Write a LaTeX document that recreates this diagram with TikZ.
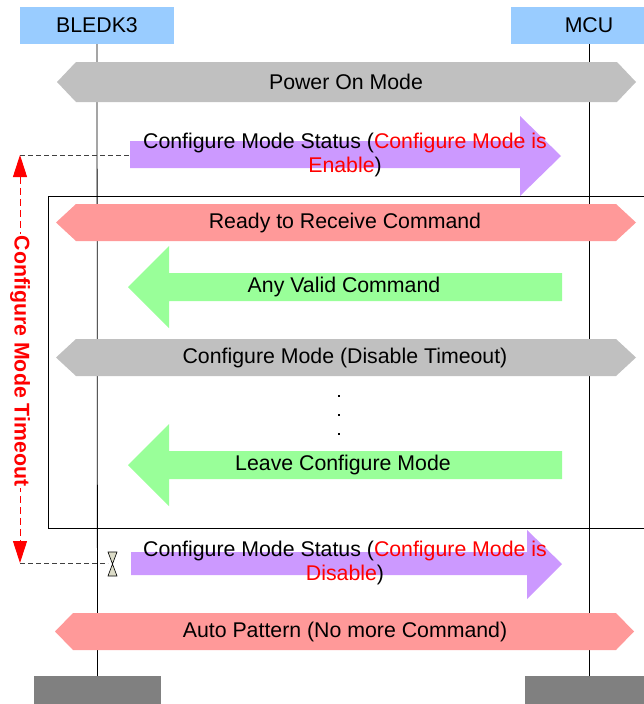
\documentclass[tikz,border=0pt]{standalone}
\usepackage{fontspec}
\setmainfont{Liberation Sans}
\usetikzlibrary{arrows.meta}
\definecolor{hdrblue}{HTML}{99CCFF}
\definecolor{pinkc}{HTML}{FF9999}
\definecolor{grayc}{HTML}{C0C0C0}
\definecolor{purplec}{HTML}{CC99FF}
\definecolor{greenc}{HTML}{99FF99}
\definecolor{darkbox}{HTML}{808080}
\definecolor{hourg}{HTML}{DCDCC8}
\definecolor{dashgray}{HTML}{404040}
\begin{document}
\begin{tikzpicture}[x=1pt,y=-1pt,
  every node/.style={font=\fontsize{21.3}{24}\selectfont, inner sep=0pt},
  hdr/.style={fill=hdrblue, minimum height=37},
  botbox/.style={fill=darkbox, minimum height=30},
  life/.style={draw=black, line width=0.8pt},
  frame/.style={draw=black, line width=0.8pt},
  gdash/.style={draw=dashgray, line width=1pt, dash pattern=on 5pt off 3pt},
  redarrow/.style={draw=red, line width=1pt, dash pattern=on 7pt off 4pt,
    {Triangle[length=22pt,width=14pt]}-{Triangle[length=22pt,width=14pt]}},
  lbl/.style={align=center, text=black},
  hl/.style={text=red}]
\clip (0,0) rectangle (644,704);
\useasboundingbox (0,0) rectangle (644,704);

% headers and bottom boxes
\node[hdr, minimum width=154] (bled) at (97,25.5) {BLEDK3};
\node[hdr, minimum width=156] (mcu) at (589,25.5) {MCU};
\node[botbox, minimum width=127] (bledend) at (97.5,691) {};
\node[botbox, minimum width=128] (mcuend) at (589,691) {};

% lifelines
\draw[life] (bled.south) -- (bledend.north);
\draw[life] (mcu.south) -- (mcuend.north);

% frame
\draw[frame] (48,196) rectangle (652,528);

% Power On Mode
\fill[grayc] (57,82) -- (76,62) -- (617,62) -- (636,82) -- (617,102) -- (76,102) -- cycle;
\node[lbl] (pwr) at (346,81.5) {Power On Mode};

% Configure Mode Status 1
\fill[purplec] (130,141) -- (520,141) -- (520,116) -- (561,156) -- (520,196) -- (520,168) -- (130,168) -- cycle;
\node[lbl] (cms1) at (345,155) {Configure Mode Status (\textcolor{red}{Configure Mode is}\\\textcolor{red}{Enable})};

% Ready to Receive Command
\fill[pinkc] (56,222.5) -- (76,204) -- (616,204) -- (636,222.5) -- (616,241) -- (76,241) -- cycle;
\node[lbl] (ready) at (345,222.5) {Ready to Receive Command};

% Any Valid Command
\fill[greenc] (128,287) -- (169,246) -- (169,273) -- (562,273) -- (562,301) -- (169,301) -- (169,328) -- cycle;
\node[lbl] (anyv) at (344,287) {Any Valid Command};

% Configure Mode (Disable Timeout)
\fill[grayc] (56,357.5) -- (76,339) -- (616,339) -- (636,357.5) -- (616,376) -- (76,376) -- cycle;
\node[lbl] (cmdis) at (345,357.5) {Configure Mode (Disable Timeout)};

% dots
\fill (338,395) rectangle (340,397);
\fill (338,414) rectangle (340,416);
\fill (338,433) rectangle (340,435);

% Leave Configure Mode
\fill[greenc] (128,465) -- (169,424) -- (169,451) -- (562,451) -- (562,479) -- (169,479) -- (169,506) -- cycle;
\node[lbl] (leave) at (343,465) {Leave Configure Mode};

% Configure Mode Status 2
\fill[purplec] (131,552) -- (527,552) -- (527,530) -- (562,564) -- (527,599) -- (527,575) -- (131,575) -- cycle;
\node[lbl] (cms2) at (345,563) {Configure Mode Status (\textcolor{red}{Configure Mode is}\\\textcolor{red}{Disable})};

% Auto Pattern
\fill[pinkc] (55,631.5) -- (73,613) -- (616,613) -- (634,631.5) -- (616,650) -- (73,650) -- cycle;
\node[lbl] (auto) at (345,631.5) {Auto Pattern (No more Command)};

% hourglass
\filldraw[fill=hourg, draw=black, line width=0.6pt] (108,552) -- (117,552) -- (112.5,564) -- cycle;
\filldraw[fill=hourg, draw=black, line width=0.6pt] (112.5,564) -- (117,576) -- (108,576) -- cycle;

% timeout markers
\coordinate (t1) at (20,155);
\coordinate (t1e) at (130,155);
\coordinate (t2) at (20,563);
\coordinate (t2e) at (108,563);
\draw[gdash] (t1) -- (t1e);
\draw[gdash] (t2) -- (t2e);
\draw[redarrow] (t1) -- (t2);
\node[rotate=-90, fill=white, inner sep=2pt, text=red, font=\fontsize{21.3}{24}\selectfont\bfseries] (tout) at (20,361) {Configure Mode Timeout};
\end{tikzpicture}
\end{document}
